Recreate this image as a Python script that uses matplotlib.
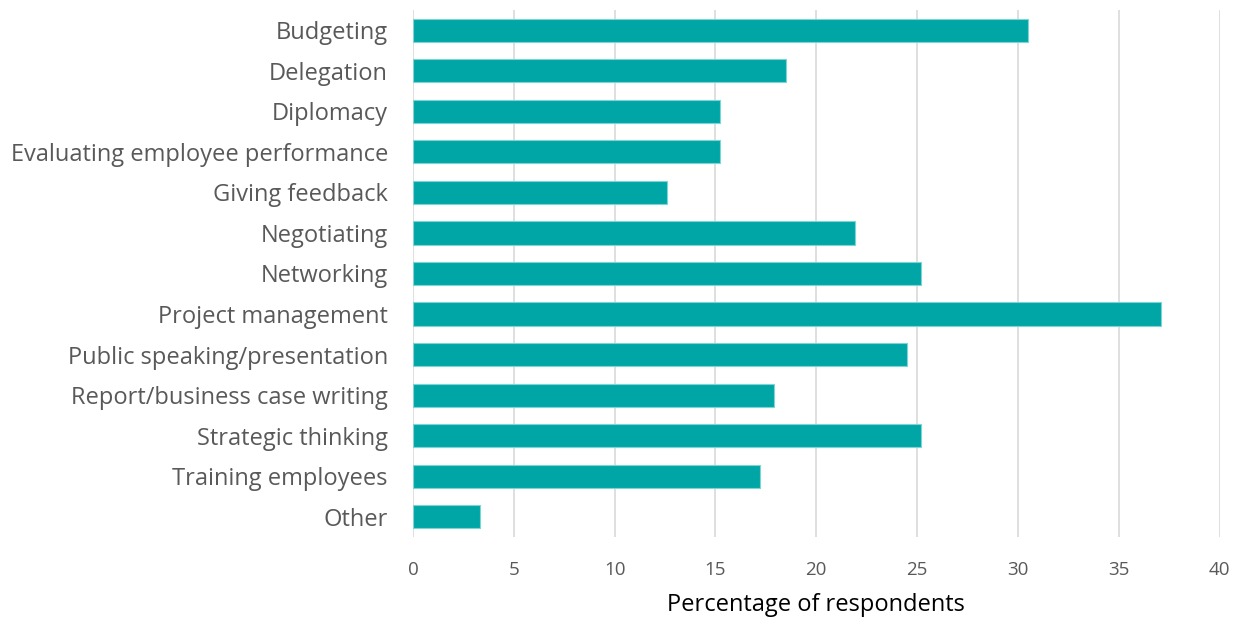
import matplotlib
matplotlib.use("Agg")
import matplotlib.pyplot as plt

categories = ["Budgeting", "Delegation", "Diplomacy", "Evaluating employee performance",
              "Giving feedback", "Negotiating", "Networking", "Project management",
              "Public speaking/presentation", "Report/business case writing",
              "Strategic thinking", "Training employees", "Other"]
values = [30.5, 18.5, 15.2, 15.2, 12.6, 21.9, 25.2, 37.1, 24.5, 17.9, 25.2, 17.2, 3.3]
xticks = [0, 5, 10, 15, 20, 25, 30, 35, 40]
xlabel = "Percentage of respondents"

plt.rcParams['font.family'] = ['Open Sans', 'DejaVu Sans']
text_color = "#595959"

fig = plt.figure(figsize=(12.42, 6.23), dpi=100)
ax = fig.add_axes([0.3325, 0.138, 0.6495, 0.846])

ypos = list(range(len(categories)))
ax.barh(ypos, values, height=0.57, color="#00A6A6", edgecolor="#7FD3D3", linewidth=0.8, zorder=3)
ax.set_ylim(len(categories) - 0.5, -0.5)
ax.set_xlim(0, 40)
ax.set_yticks(ypos)
ax.set_yticklabels(categories, fontsize=17, color=text_color)
ax.set_xticks(xticks)
ax.set_xticklabels([str(t) for t in xticks], fontsize=13.5, color=text_color)
ax.tick_params(axis='y', length=0, pad=18)
ax.tick_params(axis='x', length=0, pad=17)
ax.grid(axis='x', color="#D9D9D9", linewidth=1.2, zorder=0)
for s in ax.spines.values():
    s.set_visible(False)
ax.set_xlabel(xlabel, fontsize=17, color="#000000", labelpad=10)

fig.savefig("out.png", dpi=100)
